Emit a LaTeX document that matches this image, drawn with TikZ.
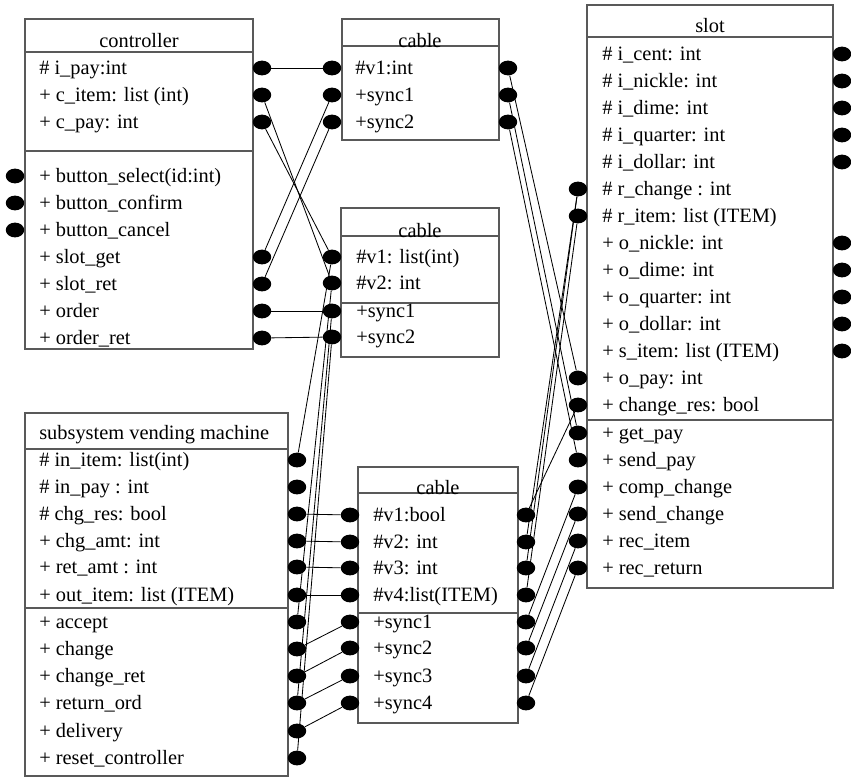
\documentclass[tikz,border=0pt]{standalone}
\usepackage{fontspec}
\setmainfont{Liberation Serif}
\usepackage{tikz}
\usetikzlibrary{shapes.geometric}
\tikzstyle{port}=[ellipse,fill=black,draw=none,minimum width=0.46cm,minimum height=0.37cm,inner sep=0pt]
\tikzstyle{member}=[anchor=base west,inner sep=0pt,yshift=-4.6pt,font=\fontsize{14.5}{16}\selectfont]
\tikzstyle{title}=[anchor=base,inner sep=0pt,yshift=-4.6pt,font=\fontsize{14.5}{16}\selectfont]
\tikzstyle{box}=[draw=black!65,line width=1pt]
\tikzstyle{wire}=[draw,line width=0.6pt]

\begin{document}
\begin{tikzpicture}[x=0.025cm,y=-0.025cm]
    \useasboundingbox (0,0) rectangle (851,777);
    % First we draw the class boxes
    \draw[box] (25,19) rectangle (253,349);
    \draw[box] (25,52) -- (253,52) (25,151) -- (253,151);
    \draw[box] (342,19) rectangle (499,140);
    \draw[box] (342,46) -- (499,46);
    \draw[box] (341,208) rectangle (499,357);
    \draw[box] (341,236) -- (499,236) (341,303) -- (499,303);
    \draw[box] (25,413) rectangle (288,776);
    \draw[box] (25,449) -- (288,449) (25,608) -- (288,608);
    \draw[box] (358,467) rectangle (518,723);
    \draw[box] (358,493) -- (518,493) (358,613) -- (518,613);
    \draw[box] (587,5) rectangle (833,588);
    \draw[box] (587,37) -- (833,37) (587,420) -- (833,420);

    % titles
    \node[title] (ctl) at (139,41) {controller};
    \node[title] (cbA) at (420,41) {cable};
    \node[title] (cbB) at (420,231) {cable};
    \node[title] (cbC) at (438,488) {cable};
    \node[title] (slot) at (710,26) {slot};
    \node[title,anchor=base west] (vm) at (39,433) {subsystem vending machine};

    % controller
    \foreach \y/\name/\label in {{68/ipay/\# i\_pay:int}, {95/citem/+ c\_item: list (int)},
    {122/cpay/+ c\_pay: int}, {176/bsel/+ button\_select(id:int)}, {203/bconf/+ button\_confirm},
    {230/bcanc/+ button\_cancel}, {257/slotget/+ slot\_get}, {284/slotret/+ slot\_ret},
    {311/order/+ order}, {338/orderret/+ order\_ret}}
        \node[member] (ctl-\name-t) at (39,\y) {\label};
    \foreach \y/\name in {68/ipay, 95/citem, 122/cpay, 257/slotget, 284/slotret, 311/order, 338/orderret}
        \node[port] (ctl-\name) at (262,\y) {};
    \foreach \y/\name in {176/bsel, 203/bconf, 230/bcanc}
        \node[port] (ctl-\name) at (15,\y) {};

    % cable between controller and slot
    \foreach \y/\name/\label in {{68/v1/\#v1:int}, {95/sync1/+sync1}, {122/sync2/+sync2}}
    {
        \node[member] (cbA-\name-t) at (355,\y) {\label};
        \node[port] (cbA-\name) at (332,\y) {};
        \node[port] (cbA-\name-r) at (508,\y) {};
    }

    % cable between controller and vending machine
    \foreach \y/\name/\label in {{257/v1/\#v1: list(int)}, {283/v2/\#v2: int}, {311/sync1/+sync1}, {337/sync2/+sync2}}
    {
        \node[member] (cbB-\name-t) at (356,\y) {\label};
        \node[port] (cbB-\name) at (332,\y) {};
    }

    % vending machine
    \foreach \y/\name/\label in {{460/initem/\# in\_item: list(int)}, {487/inpay/\# in\_pay : int},
    {514/chgres/\# chg\_res: bool}, {541/chgamt/+ chg\_amt: int}, {567/retamt/+ ret\_amt : int},
    {595/outitem/+ out\_item: list (ITEM)}, {622/accept/+ accept}, {649/change/+ change},
    {676/changeret/+ change\_ret}, {703/returnord/+ return\_ord}, {731/delivery/+ delivery},
    {758/reset/+ reset\_controller}}
    {
        \node[member] (vm-\name-t) at (39,\y) {\label};
        \node[port] (vm-\name) at (297,\y) {};
    }

    % cable between vending machine and slot
    \foreach \y/\name/\label in {{515/v1/\#v1:bool}, {542/v2/\#v2: int}, {568/v3/\#v3: int},
    {595/v4/\#v4:list(ITEM)}, {622/sync1/+sync1}, {648/sync2/+sync2}, {676/sync3/+sync3}, {703/sync4/+sync4}}
    {
        \node[member] (cbC-\name-t) at (373,\y) {\label};
        \node[port] (cbC-\name) at (350,\y) {};
        \node[port] (cbC-\name-r) at (526,\y) {};
    }

    % slot
    \foreach \y/\name/\label in {{54/icent/\# i\_cent: int}, {81/inickle/\# i\_nickle: int},
    {108/idime/\# i\_dime: int}, {135/iquarter/\# i\_quarter: int}, {162/idollar/\# i\_dollar: int},
    {189/rchange/\# r\_change : int}, {216/ritem/\# r\_item: list (ITEM)}, {243/onickle/+ o\_nickle: int},
    {270/odime/+ o\_dime: int}, {297/oquarter/+ o\_quarter: int}, {324/odollar/+ o\_dollar: int},
    {351/sitem/+ s\_item: list (ITEM)}, {378/opay/+ o\_pay: int}, {405/changeres/+ change\_res: bool},
    {433/getpay/+ get\_pay}, {460/sendpay/+ send\_pay}, {487/compchange/+ comp\_change},
    {514/sendchange/+ send\_change}, {541/recitem/+ rec\_item}, {568/recreturn/+ rec\_return}}
        \node[member] (slot-\name-t) at (602,\y) {\label};
    \foreach \y/\name in {54/icent, 81/inickle, 108/idime, 135/iquarter, 162/idollar,
    243/onickle, 270/odime, 297/oquarter, 324/odollar, 351/sitem}
        \node[port] (slot-\name) at (842,\y) {};
    \foreach \y/\name in {189/rchange, 216/ritem, 378/opay, 405/changeres, 433/getpay, 460/sendpay,
    487/compchange, 514/sendchange, 541/recitem, 568/recreturn}
        \node[port] (slot-\name) at (578,\y) {};

    % Connect the ports
    \foreach \source/\dest in {ctl-ipay/cbA-v1, ctl-citem/cbB-v2, ctl-cpay/cbB-v1,
    ctl-slotget/cbA-sync1, ctl-slotret/cbA-sync2, ctl-order/cbB-sync1, ctl-orderret/cbB-sync2,
    cbB-v1/vm-initem, cbB-v2/vm-accept, cbB-sync1/vm-returnord, cbB-sync2/vm-reset,
    vm-chgres/cbC-v1, vm-chgamt/cbC-v2, vm-retamt/cbC-v3, vm-outitem/cbC-v4,
    cbC-sync1/vm-change, cbC-sync2/vm-changeret, cbC-sync3/vm-returnord, cbC-sync4/vm-delivery,
    cbA-v1-r/slot-opay, cbA-sync1-r/slot-getpay, cbA-sync2-r/slot-sendpay,
    cbC-v1-r/slot-changeres, cbC-v2-r/slot-rchange, cbC-v3-r/slot-rchange, cbC-v4-r/slot-ritem,
    cbC-sync1-r/slot-compchange, cbC-sync2-r/slot-sendchange, cbC-sync3-r/slot-recitem,
    cbC-sync4-r/slot-recreturn}
        \path[wire] (\source) -- (\dest);
\end{tikzpicture}
\end{document}
